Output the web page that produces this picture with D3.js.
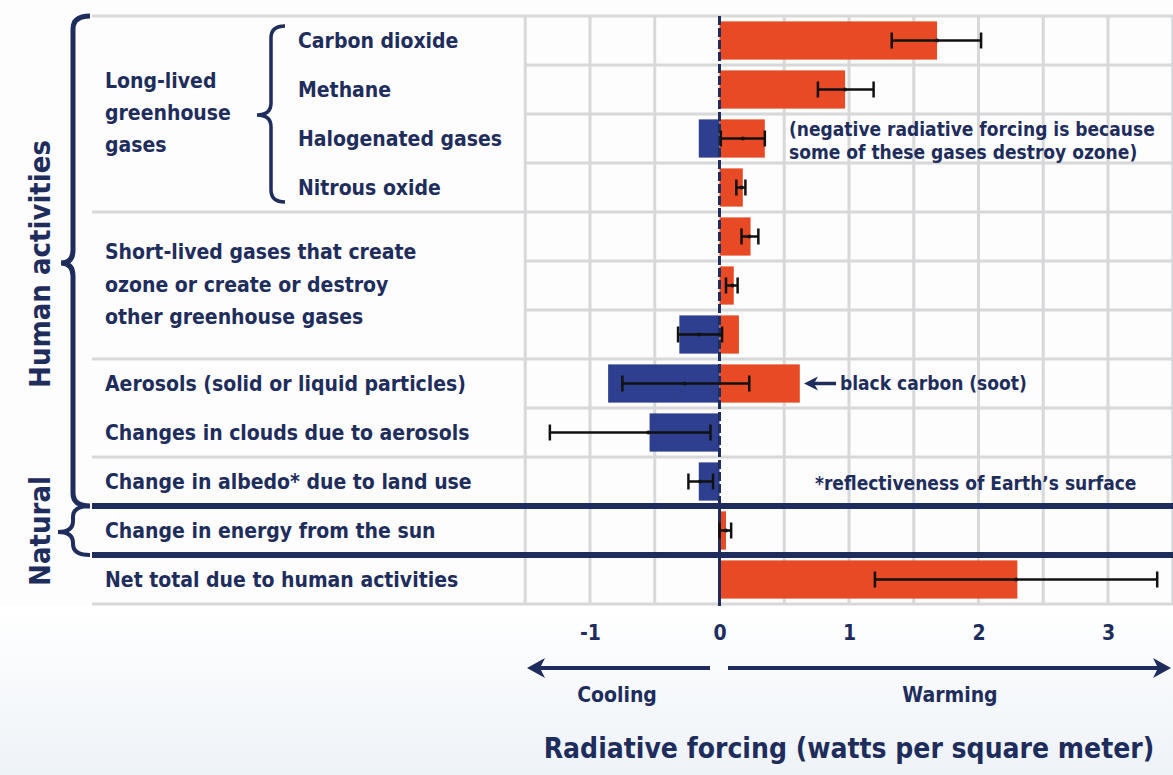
<!DOCTYPE html>
<html>
<head>
<meta charset="utf-8">
<script src="https://cdn.jsdelivr.net/npm/d3@7"></script>
<style>
  body { margin: 0; background: #ffffff; }
  svg text { font-family: "Liberation Sans Narrow", "DejaVu Sans Condensed", "Arial Narrow", sans-serif; font-weight: bold; fill: #1f2d5c; }
</style>
</head>
<body>
<svg id="chart" width="1173" height="775"></svg>
<script>

// forcing agents, top to bottom
const rows = ['Carbon dioxide', 'Methane', 'Halogenated gases', 'Nitrous oxide',
              'Carbon monoxide', 'NMVOC', 'NOx', 'Aerosols', 'Clouds', 'Albedo', 'Sun', 'Net total'];

// warming and cooling parts of each bar (W/m2)
const warmPart = [1.68, 0.97, 0.35, 0.18, 0.24, 0.11, 0.15, 0.62, 0, 0, 0.05, 2.30];
const coolPart = [0, 0, -0.16, 0, 0, 0, -0.31, -0.86, -0.54, -0.16, 0, 0];

// best estimate and uncertainty range
const bestEst = [1.68, 0.97, 0.18, 0.17, 0.23, 0.10, -0.16, -0.27, -0.55, -0.15, 0.05, 2.29];
const errLow  = [1.33, 0.76, 0.01, 0.13, 0.17, 0.05, -0.32, -0.75, -1.31, -0.24, 0.00, 1.20];
const errHigh = [2.02, 1.19, 0.35, 0.20, 0.30, 0.14, 0.02, 0.23, -0.07, -0.05, 0.09, 3.38];

// row labels (single line rows)
const rowLabels = [
  {row: 0, text: 'Carbon dioxide', indent: true},
  {row: 1, text: 'Methane', indent: true},
  {row: 2, text: 'Halogenated gases', indent: true},
  {row: 3, text: 'Nitrous oxide', indent: true},
  {row: 7, text: 'Aerosols (solid or liquid particles)'},
  {row: 8, text: 'Changes in clouds due to aerosols'},
  {row: 9, text: 'Change in albedo* due to land use'},
  {row: 10, text: 'Change in energy from the sun'},
  {row: 11, text: 'Net total due to human activities'}
];
const longLivedLines = ['Long-lived', 'greenhouse', 'gases'];
const shortLivedLines = ['Short-lived gases that create', 'ozone or create or destroy', 'other greenhouse gases'];
const halogenNote = ['(negative radiative forcing is because', 'some of these gases destroy ozone)'];

const tickValues = [-1, 0, 1, 2, 3];
const gridValues = [-1.5, -1, -0.5, 0.5, 1, 1.5, 2, 2.5, 3, 3.5];

const red = '#e84a25', blue = '#2e3f8f', navy = '#1f2d5c', grid = '#d7d8da';

const svg = d3.select('#chart');

// soft background wash at the bottom
const defs = svg.append('defs');
const grad = defs.append('linearGradient').attr('id', 'wash').attr('x1', 0).attr('y1', 0).attr('x2', 0).attr('y2', 1);
grad.append('stop').attr('offset', '0%').attr('stop-color', '#ffffff');
grad.append('stop').attr('offset', '100%').attr('stop-color', '#eef3f8');
svg.append('rect').attr('x', 0).attr('y', 0).attr('width', 1173).attr('height', 775).attr('fill', '#fdfdfd');
svg.append('rect').attr('x', 0).attr('y', 606).attr('width', 1173).attr('height', 169).attr('fill', 'url(#wash)');

const x = d3.scaleLinear().domain([-1, 3]).range([590, 1108]);
const y = d3.scaleBand().domain(rows).range([16, 604]).paddingInner(0.22).paddingOuter(0.11);
const step = y.step();
const plotTop = 16, plotBottom = 604, plotLeft = 92, innerLeft = x(-1.5);

// vertical grid
svg.append('g').selectAll('line').data(gridValues).join('line')
  .attr('x1', d => x(d)).attr('x2', d => x(d))
  .attr('y1', plotTop).attr('y2', plotBottom)
  .attr('stroke', grid).attr('stroke-width', 3);

// horizontal separators
const fullSeps = [0, 4, 7, 9, 12];
const innerSeps = [1, 2, 3, 5, 6, 8];
svg.append('g').selectAll('line').data(fullSeps).join('line')
  .attr('x1', plotLeft).attr('x2', 1173)
  .attr('y1', k => plotTop + k * step).attr('y2', k => plotTop + k * step)
  .attr('stroke', grid).attr('stroke-width', 3);
svg.append('g').selectAll('line').data(innerSeps).join('line')
  .attr('x1', innerLeft).attr('x2', 1173)
  .attr('y1', k => plotTop + k * step).attr('y2', k => plotTop + k * step)
  .attr('stroke', grid).attr('stroke-width', 3);

// bars
const bars = svg.append('g');
bars.selectAll('rect.warm').data(rows).join('rect').attr('class', 'warm')
  .attr('x', x(0))
  .attr('y', d => y(d))
  .attr('width', (d, i) => x(warmPart[i]) - x(0))
  .attr('height', y.bandwidth())
  .attr('fill', red);
bars.selectAll('rect.cool').data(rows).join('rect').attr('class', 'cool')
  .attr('x', (d, i) => x(coolPart[i]))
  .attr('y', d => y(d))
  .attr('width', (d, i) => x(0) - x(coolPart[i]))
  .attr('height', y.bandwidth())
  .attr('fill', blue);

// thick group dividers
[10, 11].forEach(k => {
  svg.append('line')
    .attr('x1', plotLeft).attr('x2', 1173)
    .attr('y1', plotTop + k * step).attr('y2', plotTop + k * step)
    .attr('stroke', navy).attr('stroke-width', 6);
});

// zero line
svg.append('line')
  .attr('x1', x(0)).attr('x2', x(0)).attr('y1', plotTop).attr('y2', plotTop + 10 * step)
  .attr('stroke', navy).attr('stroke-width', 3).attr('stroke-dasharray', '9,3');
svg.append('line')
  .attr('x1', x(0)).attr('x2', x(0)).attr('y1', plotTop + 10 * step).attr('y2', plotBottom + 2)
  .attr('stroke', navy).attr('stroke-width', 3);

// error bars
const err = svg.append('g').attr('stroke', '#111').attr('stroke-width', 2.5);
rows.forEach((r, i) => {
  const cy = y(r) + y.bandwidth() / 2;
  err.append('line').attr('x1', x(errLow[i])).attr('x2', x(errHigh[i])).attr('y1', cy).attr('y2', cy);
  [errLow[i], errHigh[i]].forEach(v => {
    err.append('line').attr('x1', x(v)).attr('x2', x(v)).attr('y1', cy - 8).attr('y2', cy + 8);
  });
  svg.append('circle').attr('cx', x(bestEst[i])).attr('cy', cy).attr('r', 2).attr('fill', '#111');
});

// row labels
svg.append('g').selectAll('text').data(rowLabels).join('text')
  .attr('x', d => d.indent ? 298 : 105)
  .attr('y', d => y(rows[d.row]) + y.bandwidth() / 2)
  .attr('dy', '0.35em')
  .attr('font-size', 21)
  .text(d => d.text);

svg.append('g').selectAll('text').data(longLivedLines).join('text')
  .attr('x', 105).attr('y', (d, i) => 81 + i * 32).attr('dy', '0.35em')
  .attr('font-size', 21).text(d => d);
svg.append('g').selectAll('text').data(shortLivedLines).join('text')
  .attr('x', 105).attr('y', (d, i) => 252 + i * 32.5).attr('dy', '0.35em')
  .attr('font-size', 21).text(d => d);

// braces
function brace(xr, xs, xl, y0, y1, ym, r)
{
  return 'M' + xr + ',' + y0 + ' Q' + xs + ',' + y0 + ' ' + xs + ',' + (y0 + r) +
         ' L' + xs + ',' + (ym - r) + ' Q' + xs + ',' + ym + ' ' + xl + ',' + ym +
         ' Q' + xs + ',' + ym + ' ' + xs + ',' + (ym + r) +
         ' L' + xs + ',' + (y1 - r) + ' Q' + xs + ',' + y1 + ' ' + xr + ',' + y1;
}
svg.append('path').attr('d', brace(90, 73, 61, plotTop, plotTop + 10 * step, 263, 13))
  .attr('fill', 'none').attr('stroke', navy).attr('stroke-width', 5);
svg.append('path').attr('d', brace(90, 73, 58, plotTop + 10 * step, plotTop + 11 * step, 532, 11))
  .attr('fill', 'none').attr('stroke', navy).attr('stroke-width', 4);
svg.append('path').attr('d', brace(285, 271, 257, 26, 202, 115, 12))
  .attr('fill', 'none').attr('stroke', navy).attr('stroke-width', 3.5);

svg.append('text').attr('transform', 'translate(50,264) rotate(-90)')
  .attr('text-anchor', 'middle').attr('font-size', 29).text('Human activities');
svg.append('text').attr('transform', 'translate(50,531) rotate(-90)')
  .attr('text-anchor', 'middle').attr('font-size', 29).text('Natural');

// notes
svg.append('g').selectAll('text').data(halogenNote).join('text')
  .attr('x', 789).attr('y', (d, i) => 129 + i * 23).attr('dy', '0.35em')
  .attr('font-size', 19).text(d => d);

const socY = y(rows[7]) + y.bandwidth() / 2;
svg.append('line').attr('x1', 836).attr('x2', 812).attr('y1', socY).attr('y2', socY)
  .attr('stroke', navy).attr('stroke-width', 3.5);
svg.append('path').attr('d', 'M804,' + socY + ' L818,' + (socY - 7) + ' L814,' + socY + ' L818,' + (socY + 7) + 'Z')
  .attr('fill', navy);
svg.append('text').attr('x', 840).attr('y', socY).attr('dy', '0.35em')
  .attr('font-size', 19).text('black carbon (soot)');

svg.append('text').attr('x', 815).attr('y', y(rows[9]) + y.bandwidth() / 2 + 2).attr('dy', '0.35em')
  .attr('font-size', 19).text('*reflectiveness of Earth\u2019s surface');

// x axis
const axis = svg.append('g')
  .attr('transform', 'translate(0,625)')
  .call(d3.axisBottom(x).tickValues(tickValues).tickSize(0).tickPadding(0).tickFormat(d => String(d)));
axis.select('.domain').remove();
axis.selectAll('text')
  .attr('dy', '0.7em')
  .attr('font-size', 21)
  .style('font-family', '"Liberation Sans Narrow", "DejaVu Sans Condensed", sans-serif')
  .style('font-weight', 'bold')
  .attr('fill', navy);

// cooling / warming arrows
const arrowY = 668;
svg.append('line').attr('x1', 710).attr('x2', 540).attr('y1', arrowY).attr('y2', arrowY)
  .attr('stroke', navy).attr('stroke-width', 4);
svg.append('path').attr('d', 'M527,' + arrowY + ' L545,' + (arrowY - 10) + ' L540,' + arrowY + ' L545,' + (arrowY + 10) + 'Z')
  .attr('fill', navy);
svg.append('line').attr('x1', 728).attr('x2', 1158).attr('y1', arrowY).attr('y2', arrowY)
  .attr('stroke', navy).attr('stroke-width', 4);
svg.append('path').attr('d', 'M1171,' + arrowY + ' L1153,' + (arrowY - 10) + ' L1158,' + arrowY + ' L1153,' + (arrowY + 10) + 'Z')
  .attr('fill', navy);

svg.append('text').attr('x', 617).attr('y', 695).attr('dy', '0.35em')
  .attr('text-anchor', 'middle').attr('font-size', 21).text('Cooling');
svg.append('text').attr('x', 950).attr('y', 695).attr('dy', '0.35em')
  .attr('text-anchor', 'middle').attr('font-size', 21).text('Warming');

svg.append('text').attr('x', 849).attr('y', 748).attr('dy', '0.35em')
  .attr('text-anchor', 'middle').attr('font-size', 28).text('Radiative forcing (watts per square meter)');

</script>
</body>
</html>
